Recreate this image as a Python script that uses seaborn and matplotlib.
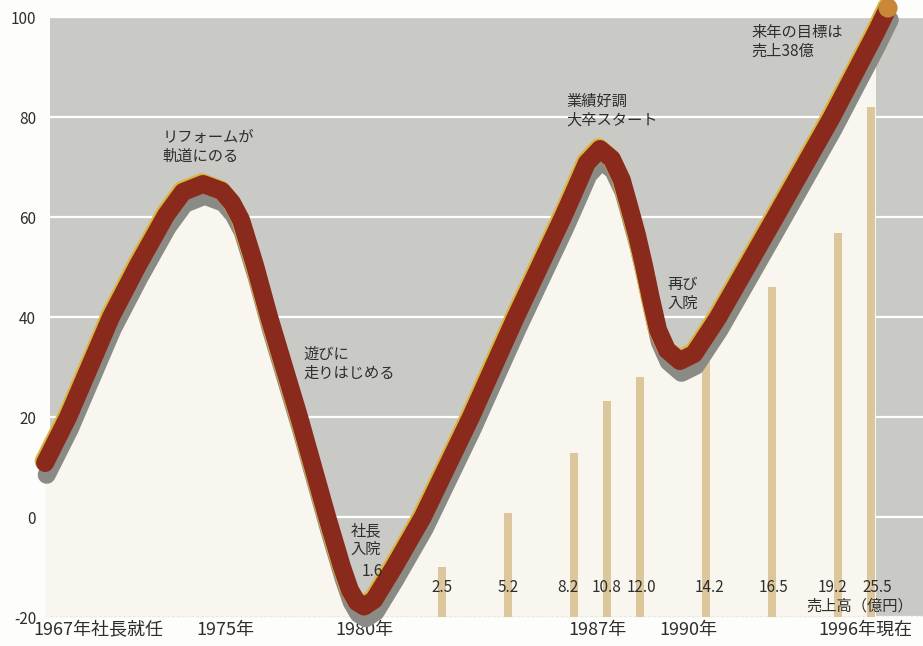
import numpy as np
import pandas as pd
import matplotlib
matplotlib.use("Agg")
import matplotlib.pyplot as plt
import matplotlib.patheffects as pe
from matplotlib.patches import Rectangle
import seaborn as sns

# Company trajectory: timeline position (year scale) and fortune level
curve_x = [1969.97, 1970.67, 1971.97, 1972.79, 1973.64, 1974.15, 1974.76, 1975.33,
           1975.64, 1975.91, 1976.33, 1976.76, 1977.67, 1978.52, 1978.97, 1979.21,
           1979.42, 1979.64, 1979.94, 1980.55, 1981.42, 1982.88, 1984.24, 1985.67,
           1986.06, 1986.39, 1986.79, 1987.15, 1987.45, 1987.67, 1987.91, 1988.12,
           1988.33, 1988.55, 1988.82, 1989.21, 1989.64, 1990.36, 1992.09, 1993.82,
           1995.15, 1995.52]
curve_y = [10.8, 20.0, 40.0, 50.4, 60.4, 65.0, 66.6, 65.2,
           62.8, 59.4, 50.4, 40.0, 20.0, 0.0, -10.0, -14.6,
           -17.0, -17.9, -16.6, -10.0, 0.0, 20.0, 40.0, 60.0,
           65.8, 70.8, 73.6, 71.6, 67.4, 62.2, 56.4, 50.4,
           43.8, 37.4, 33.4, 31.2, 32.6, 39.8, 59.8, 80.0,
           96.8, 101.8]

# Sales (億円) by year
bar_years = [1980, 1982, 1984, 1986, 1987, 1988, 1990, 1992, 1994, 1995]
sales = [1.6, 2.5, 5.2, 8.2, 10.8, 12.0, 14.2, 16.5, 19.2, 25.5]
sales_labels = ["1.6", "2.5", "5.2", "8.2", "10.8", "12.0", "14.2", "16.5", "19.2", "25.5"]
label_dx = [-0.12, 0.0, 0.0, -0.18, 0.0, 0.05, 0.1, 0.05, -0.18, 0.2]

# Axis labels
x_tick_pos = [1971.58, 1975.45, 1979.64, 1986.70, 1989.48, 1994.82]
x_tick_labels = ["1967年社長就任", "1975年", "1980年", "1987年", "1990年", "1996年現在"]
y_ticks = [-20, 0, 20, 40, 60, 80, 100]

# Event notes along the curve
notes = ["リフォームが\n軌道にのる", "遊びに\n走りはじめる", "社長\n入院",
         "業績好調\n大卒スタート", "再び\n入院", "来年の目標は\n売上38億"]
note_x = [1973.52, 1977.79, 1979.70, 1985.76, 1988.82, 1991.39]
note_y = [74.0, 30.6, -4.6, 81.2, 44.6, 95.0]
note_ha = ["left", "left", "center", "left", "left", "left"]

BASE = -20          # bars grow from the bottom of the scale
UNIT = 4            # scale units per 1億円

sns.set_theme(style="white")
plt.rcParams["font.family"] = ["Noto Sans CJK JP", "DejaVu Sans"]

GREY_BG = "#c9c9c5"
CREAM = "#f8f6ef"
RED = "#8a2a1d"
SHADOW = "#8b8b85"
GOLD = "#d9b640"
BAR = "#dcc69c"
TEXT = "#2e2e2e"

fig = plt.figure(figsize=(9.23, 6.46), dpi=100, facecolor="#fdfdfb")
ax = fig.add_axes([50 / 923, 1 - 617 / 646, 873 / 923, 600 / 646])
ax.set_facecolor(GREY_BG)
ax.set_xlim(1970.12, 1996.58)
ax.set_ylim(-20, 100)

for s in ax.spines.values():
    s.set_visible(False)

ax.set_axisbelow(True)
ax.yaxis.grid(True, color="white", lw=1.6)
ax.xaxis.grid(False)

# cream area under the curve, ending at the last bar
curve = pd.DataFrame({"x": curve_x, "y": curve_y})
fill = ax.fill_between(curve["x"], BASE, curve["y"], color=CREAM, lw=0, zorder=1)
clip = Rectangle((1969.0, -20), 1995.12 - 1969.0, 130, transform=ax.transData)
fill.set_clip_path(clip)

ax.axhline(BASE, color="#b4b0a8", lw=1.0, ls=(0, (2, 1.5)), zorder=1.5)

# sales bars
bars = pd.DataFrame({"year": bar_years, "h": [UNIT * v for v in sales]})
sns.barplot(data=bars, x="year", y="h", native_scale=True, width=0.24,
            color=BAR, saturation=1, bottom=BASE, ax=ax, zorder=2, linewidth=0)

# curve with drop shadow and gold rim
sns.lineplot(data=curve, x="x", y="y", sort=False, estimator=None, ax=ax,
             color=RED, lw=13, solid_capstyle="round", solid_joinstyle="round",
             clip_on=False, zorder=4,
             path_effects=[pe.SimpleLineShadow(offset=(1.2, -8.5), shadow_color=SHADOW,
                                               alpha=1.0),
                           pe.Stroke(offset=(-1.0, 1.3), foreground=GOLD),
                           pe.Normal()])
sns.scatterplot(x=[curve_x[-1]], y=[curve_y[-1]], s=190, color="#c98738",
                edgecolor="none", ax=ax, zorder=5, clip_on=False)

# labels
for x, v, lab, dx in zip(bar_years, sales, sales_labels, label_dx):
    y = -11.0 if v == sales[0] else -14.2
    ax.text(x + dx, y, lab, ha="center", va="center", fontsize=11, color=TEXT, zorder=6)
ax.text(1994.67, -17.8, "売上高（億円）", ha="center", va="center",
        fontsize=11, color=TEXT, zorder=6)

for t, x, y, ha in zip(notes, note_x, note_y, note_ha):
    ax.text(x, y, t, ha=ha, va="center", fontsize=11, color=TEXT,
            linespacing=1.15, zorder=6)

ax.set_xticks(x_tick_pos)
ax.set_xticklabels(x_tick_labels, fontsize=13, color=TEXT)
ax.set_yticks(y_ticks)
ax.set_yticklabels([str(v) for v in y_ticks], fontsize=11, color=TEXT)
ax.tick_params(axis="x", length=0, pad=3)
ax.tick_params(axis="y", length=0, pad=10)
ax.set_xlabel("")
ax.set_ylabel("")

fig.savefig("out.png", dpi=100, facecolor=fig.get_facecolor())
